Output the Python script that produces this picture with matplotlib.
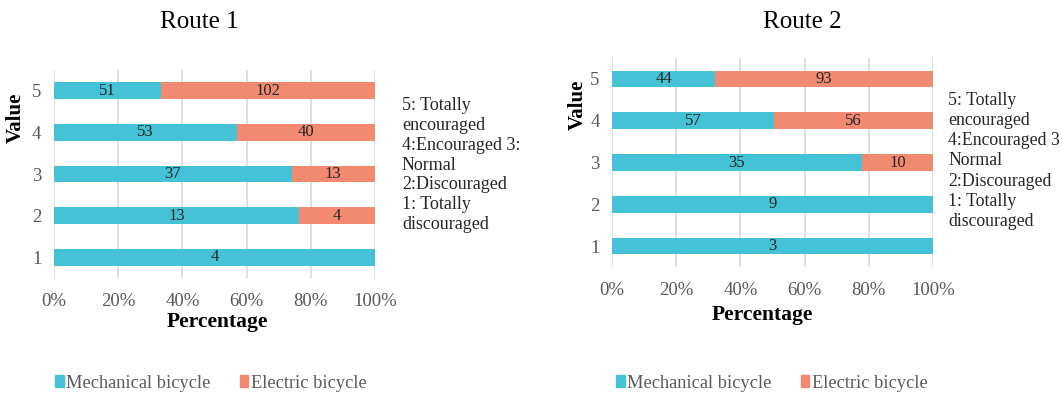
import matplotlib
matplotlib.use("Agg")
import matplotlib.pyplot as plt
from matplotlib.patches import Patch

plt.rcParams["font.family"] = ["Liberation Serif", "DejaVu Serif"]

# rating values (1 = totally discouraged ... 5 = totally encouraged)
values = [1, 2, 3, 4, 5]
value_labels = ["1", "2", "3", "4", "5"]

route1_mech = [4, 13, 37, 53, 51]
route1_elec = [0, 4, 13, 40, 102]
route2_mech = [3, 9, 35, 57, 44]
route2_elec = [0, 0, 10, 56, 93]

xticks = [0, 20, 40, 60, 80, 100]
xtick_labels = ["0%", "20%", "40%", "60%", "80%", "100%"]

note1 = "5: Totally\nencouraged\n4:Encouraged 3:\nNormal\n2:Discouraged\n1: Totally\ndiscouraged"
note2 = "5: Totally\nencouraged\n4:Encouraged 3\nNormal\n2:Discouraged\n1: Totally\ndiscouraged"

C_MECH = "#45C2D5"
C_ELEC = "#F28A71"
GRAY = "#595959"

fig = plt.figure(figsize=(10.62, 3.94), dpi=100)
ax1 = fig.add_axes([0.0508, 0.2944, 0.3023, 0.5279])
ax2 = fig.add_axes([0.5763, 0.3223, 0.3022, 0.5305])


def draw(ax, mech, elec):
    mech_pct = [m / (m + e) * 100 for m, e in zip(mech, elec)]
    elec_pct = [e / (m + e) * 100 for m, e in zip(mech, elec)]
    ax.barh(values, mech_pct, height=0.4, color=C_MECH, zorder=3)
    ax.barh(values, elec_pct, left=mech_pct, height=0.4, color=C_ELEC, zorder=3)
    for y, m, e, mp, ep in zip(values, mech, elec, mech_pct, elec_pct):
        if m > 0:
            ax.text(mp / 2, y, str(m), ha="center", va="center",
                    fontsize=12, color="#262626", zorder=4)
        if e > 0:
            ax.text(mp + ep / 2, y, str(e), ha="center", va="center",
                    fontsize=12, color="#262626", zorder=4)
    ax.set_xlim(0, 100)
    ax.set_ylim(0.5, 5.5)
    ax.set_xticks(xticks)
    ax.set_xticklabels(xtick_labels)
    ax.set_yticks(values)
    ax.set_yticklabels(value_labels)
    ax.tick_params(length=0, labelsize=13.5, colors=GRAY, pad=11)
    ax.tick_params(axis="y", pad=9)
    ax.grid(axis="x", color="#D9D9D9", linewidth=1.2, zorder=0)
    for s in ax.spines.values():
        s.set_visible(False)


draw(ax1, route1_mech, route1_elec)
draw(ax2, route2_mech, route2_elec)

# titles
fig.text(199 / 1062, 1 - 22 / 394, "Route 1", ha="center", va="center", fontsize=18)
fig.text(802 / 1062, 1 - 22 / 394, "Route 2", ha="center", va="center", fontsize=18)

# axis labels
fig.text(217 / 1062, 1 - 322 / 394, "Percentage", ha="center", va="center",
         fontsize=15.5, fontweight="bold")
fig.text(762 / 1062, 1 - 315 / 394, "Percentage", ha="center", va="center",
         fontsize=15.5, fontweight="bold")
fig.text(16 / 1062, 1 - 118 / 394, "Value", ha="center", va="center",
         rotation=90, fontsize=15, fontweight="bold")
fig.text(578 / 1062, 1 - 105 / 394, "Value", ha="center", va="center",
         rotation=90, fontsize=15, fontweight="bold")

# rating explanation
fig.text(402 / 1062, 1 - 165 / 394, note1, ha="left", va="center",
         fontsize=13, color="#262626", linespacing=1.22)
fig.text(948 / 1062, 1 - 161 / 394, note2, ha="left", va="center",
         fontsize=12.8, color="#262626", linespacing=1.24)

handles = [Patch(color=C_MECH, label="Mechanical bicycle"),
           Patch(color=C_ELEC, label="Electric bicycle")]
for cx in (211 / 1062, 772 / 1062):
    fig.legend(handles=handles, loc="center", bbox_to_anchor=(cx, 1 - 383 / 394),
               ncol=2, frameon=False, fontsize=13.2, handlelength=0.45,
               handleheight=0.65, handletextpad=0.15, columnspacing=1.6,
               labelcolor=GRAY)

fig.savefig("out.png", dpi=100)
